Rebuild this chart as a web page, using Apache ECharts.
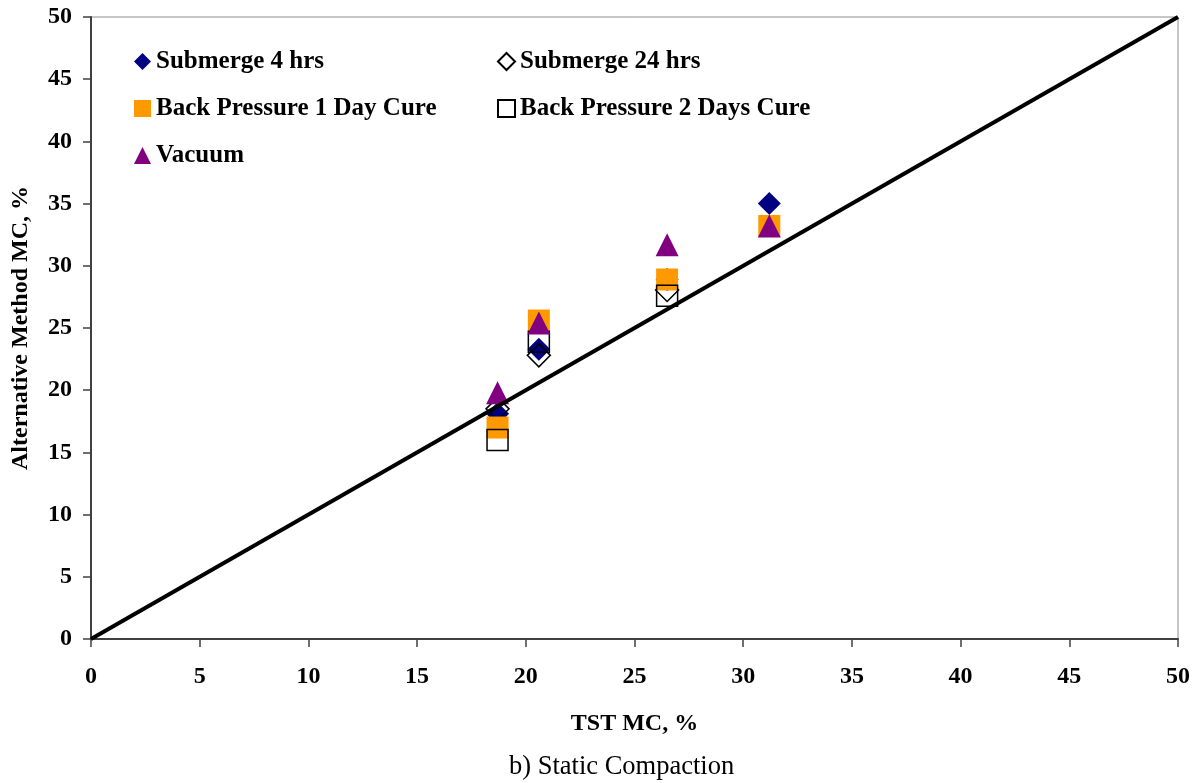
<!DOCTYPE html>
<html>
<head>
<meta charset="utf-8">
<script src="https://cdn.jsdelivr.net/npm/echarts@6/dist/echarts.min.js"></script>
<style>
  html, body { margin: 0; padding: 0; background: #ffffff; }
  #chart { width: 1203px; height: 783px; }
</style>
</head>
<body>
<div id="chart"></div>
<script>
// ---- data ----
const tstMC = [18.7, 20.6, 26.5, 31.2];
const submerge4 = [18.1, 23.3, 28.9, 35.0];
const submerge24 = [18.5, 22.8, 28.05, null];
const backPressure1 = [17.0, 25.6, 28.9, 33.2];
const backPressure2 = [16.0, 23.9, 27.6, null];
const vacuum = [19.8, 25.4, 31.7, 33.2];
const equalityLine = [[0, 0], [50, 50]];
const axisTicks = [0, 5, 10, 15, 20, 25, 30, 35, 40, 45, 50];

const seriesNames = ['Submerge 4 hrs', 'Submerge 24 hrs', 'Back Pressure 1 Day Cure', 'Back Pressure 2 Days Cure', 'Vacuum'];

function pairs(xs, ys) {
  const out = [];
  xs.forEach((x, i) => { if (ys[i] !== null && ys[i] !== undefined) out.push([x, ys[i]]); });
  return out;
}

const FONT = 'Liberation Serif, Times New Roman, serif';
const chart = echarts.init(document.getElementById('chart'), null, { renderer: 'canvas' });

const legendText = { fontFamily: FONT, fontSize: 25, fontWeight: 'bold', color: '#000', lineHeight: 24 };
const labelFont = { fontFamily: FONT, fontSize: 24, fontWeight: 'bold', color: '#000' };

const option = {
  animation: false,
  backgroundColor: '#ffffff',
  grid: { left: 91, right: 25, top: 17, bottom: 144, containLabel: false, outerBoundsMode: 'none',
    show: true, borderColor: '#8c8c8c', borderWidth: 1, backgroundColor: 'transparent' },
  legend: [
    {
      data: [seriesNames[0], seriesNames[2], seriesNames[4]],
      orient: 'vertical', left: 134, top: 49, padding: 0,
      itemWidth: 17, itemHeight: 17, itemGap: 22,
      textStyle: legendText
    },
    {
      data: [seriesNames[1], seriesNames[3]],
      orient: 'vertical', left: 497, top: 49, padding: 0,
      itemWidth: 17, itemHeight: 17, itemGap: 22,
      textStyle: legendText
    }
  ],
  xAxis: {
    type: 'value', min: 0, max: 50, interval: 5,
    name: 'TST MC, %', nameLocation: 'middle', nameGap: 73,
    nameTextStyle: labelFont,
    axisLine: { show: true, onZero: false, lineStyle: { color: '#404040', width: 2 } },
    axisTick: { show: true, inside: false, length: 8, lineStyle: { color: '#404040', width: 1.5 } },
    axisLabel: Object.assign({ margin: 26, formatter: v => axisTicks.includes(v) ? String(v) : '' }, labelFont),
    splitLine: { show: false }
  },
  yAxis: {
    type: 'value', min: 0, max: 50, interval: 5,
    name: 'Alternative Method MC, %', nameLocation: 'middle', nameGap: 58, nameRotate: 90,
    nameTextStyle: labelFont,
    axisLine: { show: true, onZero: false, lineStyle: { color: '#404040', width: 2 } },
    axisTick: { show: true, inside: false, length: 8, lineStyle: { color: '#404040', width: 1.5 } },
    axisLabel: Object.assign({ margin: 19, formatter: v => axisTicks.includes(v) ? String(v) : '' }, labelFont),
    splitLine: { show: false }
  },
  series: [
    {
      name: seriesNames[0], type: 'scatter', symbol: 'diamond', symbolSize: 23,
      itemStyle: { color: '#000080', opacity: 1 },
      data: pairs(tstMC, submerge4)
    },
    {
      name: seriesNames[1], type: 'scatter', symbol: 'diamond', symbolSize: 23,
      itemStyle: { color: 'rgba(255,255,255,0)', borderColor: '#000', borderWidth: 1.5, opacity: 1 },
      data: pairs(tstMC, submerge24)
    },
    {
      name: seriesNames[2], type: 'scatter', symbol: 'rect', symbolSize: 22,
      itemStyle: { color: '#ff9900', opacity: 1 },
      data: pairs(tstMC, backPressure1)
    },
    {
      name: seriesNames[3], type: 'scatter', symbol: 'rect', symbolSize: 21,
      itemStyle: { color: 'rgba(255,255,255,0)', borderColor: '#000', borderWidth: 1.5, opacity: 1 },
      data: pairs(tstMC, backPressure2)
    },
    {
      name: seriesNames[4], type: 'scatter', symbol: 'triangle', symbolSize: 23,
      itemStyle: { color: '#800080', opacity: 1 },
      data: pairs(tstMC, vacuum)
    },
    {
      name: 'Line of equality', type: 'line', showSymbol: false, symbol: 'none',
      lineStyle: { color: '#000', width: 4 },
      data: equalityLine, z: 3
    }
  ],
  graphic: [
    {
      type: 'text', left: 509, top: 754,
      style: { text: 'b) Static Compaction', fontFamily: FONT, fontSize: 26.5, fontWeight: 'normal', fill: '#000' }
    }
  ]
};
chart.setOption(option);
</script>
</body>
</html>
